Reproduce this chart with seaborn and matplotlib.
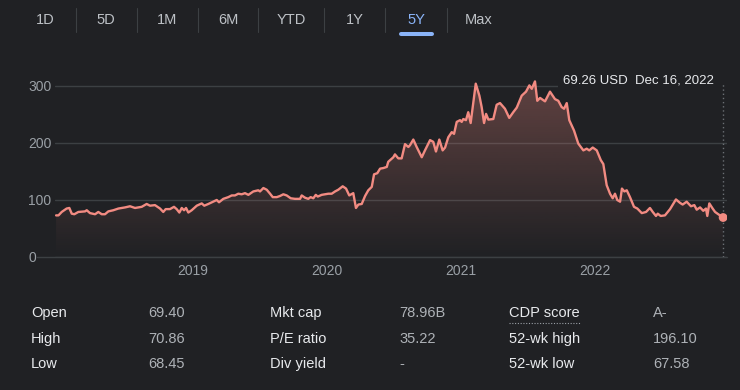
import numpy as np
import pandas as pd
import matplotlib
matplotlib.use("Agg")
import matplotlib.pyplot as plt
import seaborn as sns
from matplotlib.patches import Polygon, Rectangle
from matplotlib.lines import Line2D
from matplotlib.colors import to_rgb

# ---------------- data ----------------
years = [
    2017.978, 2017.996, 2018.020, 2018.057, 2018.077, 2018.095, 2018.114, 2018.144,
    2018.194, 2018.207, 2018.231, 2018.269, 2018.293, 2018.319, 2018.343, 2018.368,
    2018.405, 2018.443, 2018.493, 2018.530, 2018.567, 2018.617, 2018.654, 2018.679,
    2018.716, 2018.754, 2018.778, 2018.796, 2018.828, 2018.858, 2018.878, 2018.898,
    2018.916, 2018.933, 2018.948, 2018.965, 2018.990, 2019.028, 2019.065, 2019.084,
    2019.114, 2019.151, 2019.177, 2019.194, 2019.226, 2019.263, 2019.289, 2019.313,
    2019.338, 2019.363, 2019.388, 2019.413, 2019.450, 2019.487, 2019.500, 2019.525,
    2019.550, 2019.575, 2019.595, 2019.625, 2019.649, 2019.674, 2019.699, 2019.729,
    2019.761, 2019.799, 2019.811, 2019.836, 2019.860, 2019.878, 2019.898, 2019.916,
    2019.931, 2019.960, 2020.010, 2020.035, 2020.060, 2020.084, 2020.117, 2020.142,
    2020.166, 2020.196, 2020.216, 2020.234, 2020.259, 2020.284, 2020.308, 2020.334,
    2020.351, 2020.375, 2020.396, 2020.420, 2020.446, 2020.457, 2020.495, 2020.507,
    2020.532, 2020.557, 2020.582, 2020.607, 2020.619, 2020.644, 2020.669, 2020.707,
    2020.731, 2020.769, 2020.793, 2020.813, 2020.838, 2020.863, 2020.881, 2020.905,
    2020.931, 2020.948, 2020.968, 2020.993, 2021.005, 2021.017, 2021.037, 2021.054,
    2021.072, 2021.110, 2021.137, 2021.154, 2021.172, 2021.187, 2021.204, 2021.241,
    2021.266, 2021.291, 2021.328, 2021.360, 2021.390, 2021.416, 2021.453, 2021.485,
    2021.510, 2021.528, 2021.552, 2021.569, 2021.590, 2021.627, 2021.664, 2021.701,
    2021.726, 2021.751, 2021.769, 2021.789, 2021.808, 2021.843, 2021.875, 2021.913,
    2021.938, 2021.957, 2021.983, 2022.013, 2022.043, 2022.062, 2022.087, 2022.112,
    2022.132, 2022.149, 2022.166, 2022.187, 2022.201, 2022.219, 2022.237, 2022.261,
    2022.291, 2022.316, 2022.349, 2022.381, 2022.410, 2022.431, 2022.455, 2022.468,
    2022.490, 2022.522, 2022.560, 2022.604, 2022.634, 2022.654, 2022.684, 2022.716,
    2022.741, 2022.759, 2022.784, 2022.808, 2022.828, 2022.838, 2022.853, 2022.878,
    2022.896, 2022.920, 2022.956,
]
price = [
    73, 73, 79, 85, 86, 76, 75, 79,
    80, 82, 77, 75, 79, 75, 75, 80,
    82, 85, 87, 89, 86, 88, 93, 90,
    91, 85, 79, 84, 84, 88, 84, 78,
    86, 82, 86, 78, 82, 90, 94, 90,
    93, 97, 100, 96, 102, 105, 108, 108,
    111, 110, 112, 109, 115, 117, 115, 121,
    118, 111, 105, 105, 107, 110, 108, 103,
    102, 102, 108, 104, 102, 105, 103, 109,
    106, 109, 111, 111, 115, 118, 124, 120,
    108, 112, 86, 92, 93, 107, 117, 123,
    145, 147, 155, 156, 158, 167, 175, 180,
    173, 173, 198, 193, 196, 206, 193, 175,
    187, 205, 202, 185, 206, 187, 192, 210,
    219, 216, 237, 240, 237, 242, 240, 254,
    235, 304, 283, 263, 235, 251, 241, 242,
    267, 270, 260, 244, 254, 262, 283, 290,
    301, 295, 308, 274, 279, 273, 290, 277,
    274, 263, 260, 270, 240, 222, 199, 187,
    190, 187, 192, 187, 170, 163, 126, 111,
    103, 111, 100, 97, 120, 115, 117, 105,
    88, 85, 77, 79, 86, 79, 72, 76,
    72, 73, 84, 101, 95, 92, 97, 89,
    91, 83, 87, 81, 85, 72, 94, 85,
    79, 75, 69.26,
]

tabs = ["1D", "5D", "1M", "6M", "YTD", "1Y", "5Y", "Max"]
active_tab = "5Y"
y_ticks = [0, 100, 200, 300]
x_ticks = [2019, 2020, 2021, 2022]
x_tick_labels = ["2019", "2020", "2021", "2022"]
last_label = "69.26 USD  Dec 16, 2022"

stat_names_1 = ["Open", "High", "Low"]
stat_values_1 = ["69.40", "70.86", "68.45"]
stat_names_2 = ["Mkt cap", "P/E ratio", "Div yield"]
stat_values_2 = ["78.96B", "35.22", "-"]
stat_names_3 = ["CDP score", "52-wk high", "52-wk low"]
stat_values_3 = ["A-", "196.10", "67.58"]

# ---------------- style ----------------
W, H = 740, 390
BG = "#202124"
GRID = "#3c4043"
TICK = "#9aa0a6"
LINE = "#f28b82"
TAB = "#bdc1c6"
ACTIVE = "#8ab4f8"
LABEL = "#e8eaed"
VALUE = "#aeb2b7"

sns.set_theme(style="dark", rc={"axes.facecolor": BG, "figure.facecolor": BG,
                                "savefig.facecolor": BG})
plt.rcParams["font.family"] = ["Liberation Sans", "DejaVu Sans"]


def fx(px):
    return px / W


def fy(py):
    return 1 - py / H


fig = plt.figure(figsize=(W / 100, H / 100), dpi=100, facecolor=BG)

# axes placement (pixels): x 55..727, y 70..257
ax_l, ax_r, ax_t, ax_b = 55, 727, 70, 257
ax = fig.add_axes([fx(ax_l), fy(ax_b), (ax_r - ax_l) / W, (ax_b - ax_t) / H])
ax.set_facecolor(BG)

x_min, x_max = 2017.970, 2022.985
y_max = 328

# gradient fill under the line
grad_top = 320
g = np.linspace(0, 1, 256).reshape(-1, 1)
rgba = np.zeros((256, 1, 4))
rgba[..., :3] = to_rgb(LINE)
rgba[..., 3] = 0.32 * g[..., 0:1][..., 0:1].reshape(256, 1)
im = ax.imshow(rgba, extent=[x_min, x_max, 0, grad_top], origin="lower",
               aspect="auto", zorder=1, interpolation="bilinear")
verts = [(years[0], 0)] + list(zip(years, price)) + [(years[-1], 0)]
clip_poly = Polygon(verts, closed=True, facecolor="none", edgecolor="none",
                    transform=ax.transData)
ax.add_patch(clip_poly)
im.set_clip_path(clip_poly)

df = pd.DataFrame({"year": years, "price": price})
sns.lineplot(data=df, x="year", y="price", color=LINE, linewidth=1.7,
             estimator=None, ax=ax, zorder=4)
sns.scatterplot(x=[years[-1]], y=[price[-1]], s=40, color=LINE,
                edgecolor="none", ax=ax, zorder=5)

# dotted vertical line at last point
ax.vlines(years[-1], 0, 307, colors="#6b6f74", linestyles=(0, (1, 2)),
          linewidth=1, zorder=3)

ax.set_xlim(x_min, x_max)
ax.set_ylim(0, y_max)
ax.set_xticks(x_ticks)
ax.set_xticklabels(x_tick_labels)
ax.set_yticks(y_ticks)
ax.set_yticklabels([str(v) for v in y_ticks])
ax.set_xlabel("")
ax.set_ylabel("")
for s in ax.spines.values():
    s.set_visible(False)
ax.grid(axis="y", color=GRID, linewidth=1)
ax.grid(axis="x", visible=False)
ax.tick_params(axis="y", length=0, pad=19.4, labelcolor=TICK, labelsize=10)
ax.tick_params(axis="x", length=0, pad=5, labelcolor=TICK, labelsize=10)
for lbl in ax.get_yticklabels():
    lbl.set_ha("left")
# zero line extends further left
ax.axhline(0, xmin=(37 - ax_l) / (ax_r - ax_l), xmax=1, color=GRID,
           linewidth=1, clip_on=False, zorder=0.6)

# cover gridline under the price label
cover = Rectangle((fx(558), fy(91)), (ax_r + 2 - 558) / W, 10 / H,
                  transform=fig.transFigure, facecolor=BG, edgecolor="none",
                  zorder=2, clip_on=False)
ax.add_patch(cover)
ax.text(fx(714), fy(80.5), last_label, transform=fig.transFigure,
        ha="right", va="center", color=LABEL, fontsize=9.5, zorder=6)

# ---------------- tab bar ----------------
tab_x = [45, 106, 167, 228, 291, 355, 416, 479]
sep_x = [76, 137, 198, 258, 324, 385, 447]
for t, x in zip(tabs, tab_x):
    fig.text(fx(x), fy(20), t, ha="center", va="center", fontsize=10.5,
             color=ACTIVE if t == active_tab else TAB)
for x in sep_x:
    fig.add_artist(Line2D([fx(x), fx(x)], [fy(8), fy(32)], color=GRID,
                          linewidth=0.8, transform=fig.transFigure))
ai = tab_x[tabs.index(active_tab)]
fig.add_artist(Line2D([fx(ai - 15.5), fx(ai + 15.5)], [fy(33.7), fy(33.7)],
                      color=ACTIVE, linewidth=2.9, solid_capstyle="round",
                      transform=fig.transFigure))

# ---------------- stats table ----------------
row_y = [313, 339, 364]
cols = [(31, 148, stat_names_1, stat_values_1),
        (270, 399, stat_names_2, stat_values_2),
        (509, 653, stat_names_3, stat_values_3)]
for lx, vx, names, vals in cols:
    for y, n, v in zip(row_y, names, vals):
        fig.text(fx(lx), fy(y), n, ha="left", va="center", fontsize=10.5,
                 color=LABEL)
        fig.text(fx(vx), fy(y), v, ha="left", va="center", fontsize=10.5,
                 color=VALUE)
# dotted underline under "CDP score"
fig.add_artist(Line2D([fx(509), fx(580)], [fy(322.5), fy(322.5)],
                      color=TICK, linewidth=0.8, linestyle=(0, (1, 1.5)),
                      transform=fig.transFigure))

fig.savefig("out.png", dpi=100, facecolor=BG)
